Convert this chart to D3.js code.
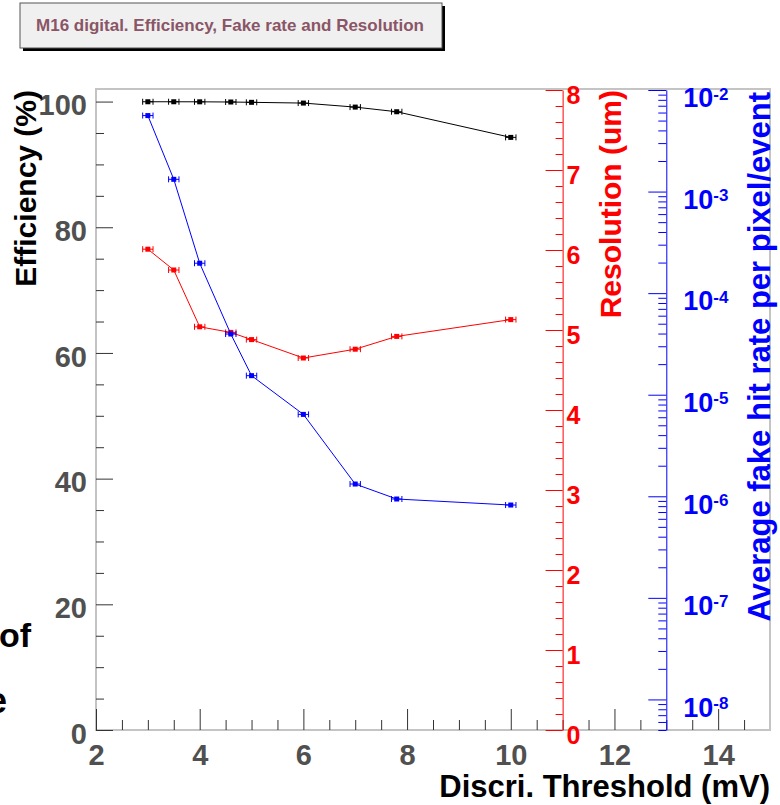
<!DOCTYPE html>
<html>
<head>
<meta charset="utf-8">
<script src="https://cdn.jsdelivr.net/npm/d3@7"></script>
<style>
  body { margin: 0; background: #fff; }
  text { font-family: "Liberation Sans", Arial, Helvetica, sans-serif; font-weight: bold; }
</style>
</head>
<body>
<svg id="chart" width="780" height="805"></svg>
<script>
// Discriminator thresholds (mV) and their uncertainty
const thresholds   = [3, 3.5, 4, 4.6, 5, 6, 7, 7.8, 10];
const thresholdErr = [0.1, 0.1, 0.1, 0.1, 0.1, 0.1, 0.1, 0.1, 0.1];
// Measured quantities at each threshold
const efficiency = [99.97, 99.97, 99.96, 99.93, 99.88, 99.76, 99.12, 98.38, 94.3];   // %
const resolution = [6.01, 5.75, 5.04, 4.97, 4.88, 4.65, 4.76, 4.92, 5.13];          // um
const fakeRate   = [5.6e-3, 1.32e-3, 1.97e-4, 3.96e-5, 1.54e-5, 6.4e-6, 1.32e-6, 9.4e-7, 8.2e-7];
// Tick values of the four axes
const xTicks    = [2, 4, 6, 8, 10, 12, 14];
const effTicks  = [0, 20, 40, 60, 80, 100];
const resTicks  = [0, 1, 2, 3, 4, 5, 6, 7, 8];
const fakeTicks = [1e-8, 1e-7, 1e-6, 1e-5, 1e-4, 1e-3, 1e-2];

const titleText = "M16 digital. Efficiency, Fake rate and Resolution";

const svg = d3.select("#chart");
svg.append("rect").attr("width", 780).attr("height", 805).attr("fill", "#fff");

const frame = { left: 96, right: 770, top: 89, bottom: 730 };
const x    = d3.scaleLinear().domain([2, 15]).range([frame.left, frame.right]);
const yEff = d3.scaleLinear().domain([0, 102]).range([frame.bottom, frame.top]);
const yRes = d3.scaleLinear().domain([0, 8]).range([frame.bottom, 90]);
const yFake = d3.scaleLog().domain([5e-9, 1e-2]).range([frame.bottom, 90]);

const labelGrey = "#505050";
const tickColor = "#333";

// ---- title box with drop shadow
const tb = { x: 20, y: 3, w: 422, h: 45 };
svg.append("rect").attr("x", tb.x + 3).attr("y", tb.y + 3).attr("width", tb.w).attr("height", tb.h).attr("fill", "#000");
svg.append("rect").attr("x", tb.x).attr("y", tb.y).attr("width", tb.w).attr("height", tb.h)
  .attr("fill", "#f0f0f0").attr("stroke", "#555").attr("stroke-width", 1);
svg.append("text").attr("x", 230).attr("y", 31).attr("text-anchor", "middle")
  .attr("font-size", 17).attr("fill", "#8a5566").text(titleText);

// ---- text fragments at the left edge
svg.append("text").attr("x", 31).attr("y", 647).attr("text-anchor", "end").attr("font-size", 34).attr("fill", "#000").text("of");
svg.append("text").attr("x", 7).attr("y", 713).attr("text-anchor", "end").attr("font-size", 36).attr("fill", "#000").text("e");

// ---- frame
svg.append("rect").attr("x", frame.left).attr("y", frame.top)
  .attr("width", frame.right - frame.left).attr("height", frame.bottom - frame.top)
  .attr("fill", "none").attr("stroke", "#c4c4c4").attr("stroke-width", 2);

function styleTicks(g, color) {
  g.select(".domain").remove();
  g.selectAll(".tick line").attr("stroke", color);
}

// ---- left efficiency axis
svg.append("g").attr("transform", `translate(${frame.left},0)`)
  .call(d3.axisLeft(yEff).tickValues(d3.range(0, 101, 5).filter(v => v % 20)).tickSize(-8).tickFormat(""))
  .call(g => styleTicks(g, tickColor));
const gEff = svg.append("g").attr("transform", `translate(${frame.left},0)`)
  .call(d3.axisLeft(yEff).tickValues(effTicks).tickSizeInner(-17).tickSizeOuter(0).tickPadding(9))
  .call(g => styleTicks(g, tickColor));
gEff.selectAll(".tick text").attr("font-size", 29).attr("fill", labelGrey).attr("dy", "0.45em")
  .attr("font-family", null);

// ---- bottom threshold axis
svg.append("g").attr("transform", `translate(0,${frame.bottom})`)
  .call(d3.axisBottom(x).tickValues(d3.range(2.5, 15, 0.5).filter(v => v % 2 !== 0)).tickSize(-10).tickFormat(""))
  .call(g => styleTicks(g, tickColor));
const gX = svg.append("g").attr("transform", `translate(0,${frame.bottom})`)
  .call(d3.axisBottom(x).tickValues(xTicks).tickSizeInner(-21).tickSizeOuter(0).tickPadding(14))
  .call(g => styleTicks(g, tickColor));
gX.selectAll(".tick text").attr("font-size", 29).attr("fill", labelGrey).attr("font-family", null);

// ---- measurement series
function drawSeries(values, yScale, color) {
  const pts = thresholds.map((t, i) => ({ t, e: thresholdErr[i], v: values[i] }));
  const g = svg.append("g");
  g.append("path").datum(pts)
    .attr("d", d3.line().x(d => x(d.t)).y(d => yScale(d.v)))
    .attr("fill", "none").attr("stroke", color).attr("stroke-width", 1);
  const p = g.selectAll("g.pt").data(pts).join("g").attr("class", "pt");
  p.append("line").attr("x1", d => x(d.t - d.e)).attr("x2", d => x(d.t + d.e))
    .attr("y1", d => yScale(d.v)).attr("y2", d => yScale(d.v)).attr("stroke", color).attr("stroke-width", 1);
  [-1, 1].forEach(s => {
    p.append("line").attr("x1", d => x(d.t + s * d.e)).attr("x2", d => x(d.t + s * d.e))
      .attr("y1", d => yScale(d.v) - 3).attr("y2", d => yScale(d.v) + 3)
      .attr("stroke", color).attr("stroke-width", 1);
  });
  p.append("rect").attr("x", d => x(d.t) - 2.5).attr("y", d => yScale(d.v) - 2.5)
    .attr("width", 5).attr("height", 5).attr("fill", color);
}
drawSeries(efficiency, yEff, "#000");
drawSeries(resolution, yRes, "#ff0000");
drawSeries(fakeRate, yFake, "#0000ff");

// ---- resolution axis (red)
const xRes = x(11);
svg.append("g").attr("transform", `translate(${xRes},0)`)
  .call(d3.axisRight(yRes).tickValues(d3.range(0, 8.01, 0.2).filter(v => Math.abs(v - Math.round(v)) > 1e-6)).tickSize(-7).tickFormat(""))
  .call(g => styleTicks(g, "#ff0000"));
const gRes = svg.append("g").attr("transform", `translate(${xRes},0)`)
  .call(d3.axisRight(yRes).tickValues(resTicks).tickSizeInner(-17).tickSizeOuter(0).tickPadding(4));
gRes.select(".domain").attr("stroke", "#ff0000");
gRes.selectAll(".tick line").attr("stroke", "#ff0000");
gRes.selectAll(".tick text").attr("font-size", 25).attr("fill", "#ff0000").attr("dy", "0.52em").attr("font-family", null);

// ---- fake hit rate axis (blue, logarithmic)
const xFake = x(13);
const fakeMinor = [];
for (let k = -9; k <= -3; k++) for (let m = 2; m <= 9; m++) {
  const v = m * Math.pow(10, k);
  if (v >= 5e-9 && v < 1e-2) fakeMinor.push(v);
}
svg.append("g").attr("transform", `translate(${xFake},0)`)
  .call(d3.axisRight(yFake).tickValues(fakeMinor).tickSize(-8).tickFormat(""))
  .call(g => styleTicks(g, "#0000ff"));
const gFake = svg.append("g").attr("transform", `translate(${xFake},0)`)
  .call(d3.axisRight(yFake).tickValues(fakeTicks).tickSizeInner(-18).tickSizeOuter(0).tickPadding(17));
gFake.select(".domain").attr("stroke", "#0000ff");
gFake.selectAll(".tick line").attr("stroke", "#0000ff");
gFake.selectAll(".tick text").attr("font-size", 27).attr("fill", "#0000ff").attr("dy", "0.62em").attr("font-family", null)
  .each(function (d) {
    const t = d3.select(this).text("");
    t.append("tspan").text("10");
    t.append("tspan").attr("dy", "-0.45em").attr("font-size", 17).text(Math.round(Math.log10(d)));
  });

// ---- axis titles
svg.append("text").attr("transform", "translate(36,90) rotate(-90)").attr("text-anchor", "end")
  .attr("font-size", 30).attr("fill", "#000").text("Efficiency (%)");
svg.append("text").attr("transform", "translate(621,90) rotate(-90)").attr("text-anchor", "end")
  .attr("font-size", 30).attr("fill", "#ff0000").text("Resolution (um)");
svg.append("text").attr("transform", "translate(770,92) rotate(-90)").attr("text-anchor", "end")
  .attr("font-size", 31).attr("fill", "#0000ff").text("Average fake hit rate per pixel/event");
svg.append("text").attr("x", 770).attr("y", 797).attr("text-anchor", "end")
  .attr("font-size", 31).attr("fill", "#000").text("Discri. Threshold (mV)");
</script>
</body>
</html>
